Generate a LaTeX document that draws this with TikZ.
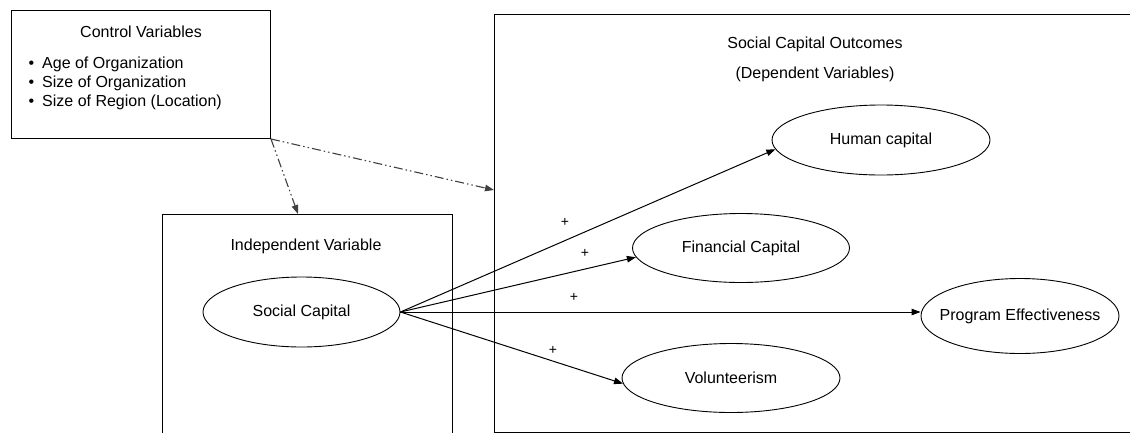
\documentclass[tikz,border=0pt]{standalone}
\usepackage{fontspec}
\setmainfont{Liberation Sans}
\usetikzlibrary{shapes.geometric,arrows.meta}
\tikzset{
  box/.style={draw, line width=1pt, inner sep=0pt, anchor=north west},
  oval/.style={draw, ellipse, line width=0.9pt, inner xsep=-20pt, inner ysep=-6pt},
  lbl/.style={font=\fontsize{16}{19}\selectfont, inner sep=0pt},
  link/.style={line width=1pt, -{Triangle[length=9pt,width=6.5pt]}},
  ctrl/.style={line width=1.1pt, black!75, dash pattern=on 9pt off 3pt on 1.5pt off 3pt on 1.5pt off 3pt, -{Triangle[length=9pt,width=6.5pt]}},
  plus/.style={font=\fontsize{14}{16}\selectfont, inner sep=0pt}
}
\begin{document}
\begin{tikzpicture}[x=1pt,y=-1pt]
\useasboundingbox (0,0) rectangle (1130,432);
\clip (0,0) rectangle (1130,432);
\fill[white] (0,0) rectangle (1130,432);
% boxes
\node[box, minimum width=259pt, minimum height=128pt] (cv) at (11,10) {};
\node[box, minimum width=290pt, minimum height=240pt] (ib) at (162,214) {};
\node[box, minimum width=660pt, minimum height=418pt] (db) at (494,14) {};
% texts
\node[lbl, anchor=base] (cvt) at (141,37) {Control Variables};
\node[lbl, anchor=base west] (b1) at (42,68) {\llap{\textbullet\hspace{8pt}}Age of Organization};
\node[lbl, anchor=base west] (b2) at (42,87) {\llap{\textbullet\hspace{8pt}}Size of Organization};
\node[lbl, anchor=base west] (b3) at (42,106) {\llap{\textbullet\hspace{8pt}}Size of Region (Location)};
\node[lbl, anchor=base] (dbt1) at (815,48) {Social Capital Outcomes};
\node[lbl, anchor=base] (dbt2) at (815,78) {(Dependent Variables)};
\node[lbl] (ibt) at (306,246) {Independent Variable};
% ellipses
\node[lbl, oval, minimum width=197pt, minimum height=70pt] (sc) at (301.5,312) {Social Capital};
\node[lbl, oval, minimum width=218pt, minimum height=70pt] (hc) at (881,140) {Human capital};
\node[lbl, oval, minimum width=217pt, minimum height=69pt] (fc) at (741,248) {Financial Capital};
\node[lbl, oval, minimum width=198pt, minimum height=75pt] (pe) at (1020,316) {Program Effectiveness};
\node[lbl, oval, minimum width=218pt, minimum height=69pt] (vo) at (731,378) {Volunteerism};
% control arrows
\coordinate (t1) at (298,214);
\coordinate (t2) at (494,190);
\draw[ctrl] (cv.south east) -- (t1);
\draw[ctrl] (cv.south east) -- (t2);
% links
\draw[link] (sc.east) -- (hc.185);
\draw[link] (sc.east) -- (fc.185);
\draw[link] (sc.east) -- (sc.east -| pe.west);
\draw[link] (sc.east) -- (vo.183);
% plus signs
\node[plus] (p1) at (565,222) {+};
\node[plus] (p2) at (585,253) {+};
\node[plus] (p3) at (574,297) {+};
\node[plus] (p4) at (553,350) {+};
\end{tikzpicture}
\end{document}
